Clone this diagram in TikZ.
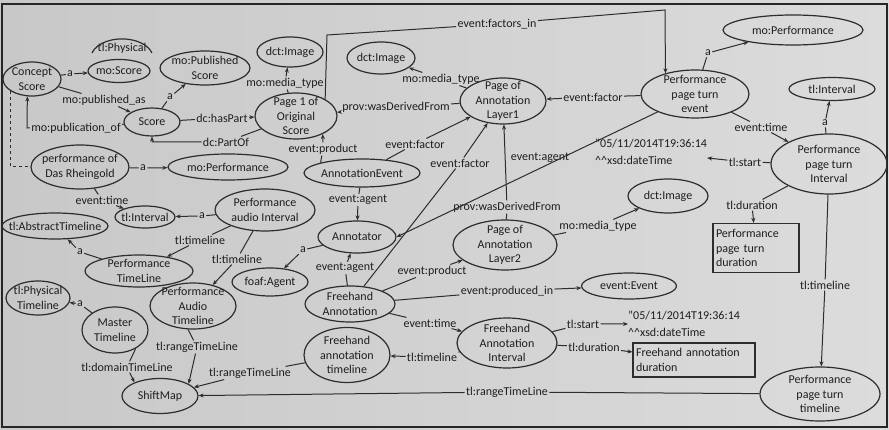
\documentclass[tikz,border=0pt]{standalone}
\usepackage{fontspec}
\setmainfont{Carlito}
\usetikzlibrary{shapes.geometric,arrows.meta}
\definecolor{bgl}{RGB}{200,200,200}
\definecolor{bgr}{RGB}{220,220,220}
\definecolor{lnc}{RGB}{45,45,45}
\definecolor{txc}{RGB}{30,30,30}
\newcommand{\dgfont}{\fontsize{12}{14.5}\selectfont}
\begin{document}
\begin{tikzpicture}[x=1pt,y=-1pt,
  txt/.style={font=\dgfont, text=txc, align=center, inner sep=0pt},
  E/.style n args={3}{ellipse, draw=lnc, line width=1.2pt, minimum width=#1, minimum height=#2, inner sep=0pt, label={[txt]center:{#3}}},
  B/.style={rectangle, draw=lnc, line width=1.1pt, font=\dgfont, text=txc, align=left, inner xsep=3pt, inner ysep=2pt},
  L/.style={font=\dgfont, text=txc, inner sep=1.2pt},
  arr/.style={draw=lnc, line width=1pt, -{Stealth[length=5pt,width=4pt]}},
  ln/.style={draw=lnc, line width=1pt},
]
\shade[left color=bgl, right color=bgr] (0,0) rectangle (889,430);
\useasboundingbox (0,0) rectangle (889,430);
\draw[black!85, line width=2pt] (2,4) rectangle (887,427);

% ---------- nodes ----------
\node[E={58}{34}{Concept\\Score}] (cs) at (32,79) {};
\node[E={62}{23}{mo:Score}] (mos) at (119,71) {};
\node[txt] (tlphy) at (122,48) {tl:Physical};
\draw[draw=lnc, line width=1.2pt] (92,53) arc[start angle=165,end angle=15,x radius=31pt,y radius=19pt];
\node[E={90}{34}{mo:Published\\Score}] (mopub) at (205,68) {};
\node[E={56}{28}{Score}] (score) at (152,122) {};
\node[E={66}{30}{dct:Image}] (img1) at (290,52) {};
\node[E={82}{46}{Page 1 of\\Original\\Score}] (page1) at (296,116) {};
\node[E={68}{32}{dct:Image}] (img2) at (381,58) {};
\node[E={86}{46}{Page of\\Annotation\\Layer1}] (lay1) at (503,101) {};
\node[E={108}{48}{Performance\\page turn\\event}] (ppte) at (695,94) {};
\node[E={140}{30}{mo:Performance}] (moperf1) at (793,30) {};
\node[E={86}{23}{tl:Interval}] (tlint1) at (832,89) {};
\node[E={116}{60}{Performance\\page turn\\Interval}] (ppti) at (829,164) {};
\node[txt, align=left, anchor=west] (lit1) at (595,152) {"05/11/2014T19:36:14\\[3pt]\textasciicircum\textasciicircum xsd:dateTime};
\node[B, text width=80pt, minimum height=49pt] (pptdur) at (756,248) {Performance\\page turn\\duration};
\node[E={80}{34}{dct:Image}] (img3) at (668,196) {};
\node[E={120}{54}{Performance\\page turn\\timeline}] (ppttl) at (820,394) {};
\node[E={98}{44}{performance of\\Das Rheingold}] (dasr) at (80,167) {};
\node[E={120}{26}{mo:Performance}] (moperf2) at (228,167) {};
\node[E={60}{22}{tl:Interval}] (tlint2) at (145,217) {};
\node[E={100}{42}{Performance\\audio Interval}] (pai) at (265,210) {};
\node[E={106}{26}{tl:AbstractTimeline}] (tlabs) at (55,226) {};
\node[E={108}{32}{Performance\\TimeLine}] (ptl) at (139,271) {};
\node[E={76}{28}{foaf:Agent}] (foaf) at (270,282) {};
\node[E={86}{46}{Performance\\Audio\\Timeline}] (pat) at (193,306) {};
\node[E={78}{32}{Annotator}] (annot) at (357,237) {};
\node[E={116}{28}{AnnotationEvent}] (aev) at (362,173) {};
\node[E={104}{50}{Page of\\Annotation\\Layer2}] (lay2) at (505,245) {};
\node[E={90}{36}{Freehand\\Annotation}] (fha) at (350,304) {};
\node[E={95}{26}{event:Event}] (evt) at (629,286) {};
\node[E={100}{50}{Freehand\\Annotation\\Interval}] (fai) at (507,343) {};
\node[txt, align=left, anchor=west] (lit2) at (628,324) {"05/11/2014T19:36:14\\[3pt]\textasciicircum\textasciicircum xsd:dateTime};
\node[B, text width=116pt, minimum height=34pt] (fadur) at (694,360) {Freehand annotation\\duration};
\node[E={86}{55}{Freehand\\annotation\\timeline}] (fat) at (347,355) {};
\node[E={66}{46}{Master\\Timeline}] (master) at (115,330) {};
\node[E={64}{34}{tl:Physical\\Timeline}] (tlphys) at (38,298) {};
\node[E={76}{35}{ShiftMap}] (shift) at (160,396) {};

% ---------- labels ----------
\node[L] (l1) at (70,74) {a};
\node[L] (l2) at (104,100) {mo:published\_as};
\node[L] (l3) at (76,128) {mo:publication\_of};
\node[L] (l4) at (170,97) {a};
\node[L] (l5) at (222,118) {dc:hasPart};
\node[L] (l6) at (226,142) {dc:PartOf};
\node[L] (l7) at (285,83) {mo:media\_type};
\node[L] (l8) at (396,107) {prov:wasDerivedFrom};
\node[L] (l9) at (497,24) {event:factors\_in};
\node[L] (l10) at (708,53) {a};
\node[L] (l11) at (593,97) {event:factor};
\node[L] (l12) at (761,127) {event:time};
\node[L] (l13) at (825,123) {a};
\node[L] (l14) at (745,162) {tl:start};
\node[L] (l15) at (752,205) {tl:duration};
\node[L] (l16) at (825,285) {tl:timeline};
\node[L] (l17) at (540,158) {event:agent};
\node[L] (l18) at (323,149) {event:product};
\node[L] (l19) at (415,144) {event:factor};
\node[L] (l20) at (358,200) {event:agent};
\node[L] (l21) at (303,250) {a};
\node[L] (l22) at (345,268) {event:agent};
\node[L] (l23) at (460,163) {event:factor};
\node[L] (l24) at (507,207) {prov:wasDerivedFrom};
\node[L] (l25) at (432,271) {event:product};
\node[L] (l26) at (507,291) {event:produced\_in};
\node[L] (l27) at (430,323) {event:time};
\node[L] (l28) at (583,324) {tl:start};
\node[L] (l29) at (594,347) {tl:duration};
\node[L] (l30) at (432,357) {tl:timeline};
\node[L] (l31) at (507,392) {tl:rangeTimeLine};
\node[L] (l32) at (250,373) {tl:rangeTimeLine};
\node[L] (l33) at (197,347) {tl:rangeTimeLine};
\node[L] (l34) at (127,367) {tl:domainTimeLine};
\node[L] (l35) at (143,168) {a};
\node[L] (l36) at (102,200) {event:time};
\node[L] (l37) at (202,216) {a};
\node[L] (l38) at (80,252) {a};
\node[L] (l39) at (200,240) {tl:timeline};
\node[L] (l40) at (237,259) {tl:timeline};
\node[L] (l41) at (80,304) {a};
\node[L] (l42) at (441,79) {mo:media\_type};
\node[L] (l43) at (598,226) {mo:media\_type};

\coordinate (fa1) at (327,35);
\coordinate (fa2) at (665,10);
\coordinate (c3) at (27,128);

% ---------- connectors ----------
\draw[arr] (cs) -- (l1) -- (mos);
\draw[arr] (cs) -- (l2) -- (score);
\draw[arr] (score) -- (l3) -- (c3) -- (cs.-105);
\draw[arr] (score) -- (l4) -- (mopub);
\draw[arr] (score) -- (l5) -- (page1);
\draw[arr] (page1) -- (l6) -| (score);
\draw[arr] (page1) -- (l7) -- (img1);
\draw[arr] (lay1) -- (l8) -- (page1);
\draw[arr] (page1.30) -- (fa1) -- (l9) -- (fa2) -- (ppte.145);
\draw[arr] (ppte) -- (l10) -- (moperf1);
\draw[arr] (ppte) -- (l11) -- (lay1);
\draw[arr] (ppte) -- (l12) -- (ppti);
\draw[arr] (ppti) -- (l13) -- (tlint1);
\draw[arr] (ppti) -- (l14) -- (lit1);
\draw[arr] (ppti) -- (l15) -- (pptdur);
\draw[arr] (ppti) -- (l16) -- (ppttl);
\draw[arr] (ppte) -- (annot.east);
\draw[arr] (aev.166) -- (l18) -- (page1.-34);
\draw[arr] (aev) -- (l19) -- (lay1);
\draw[arr] (aev) -- (l20) -- (annot);
\draw[arr] (annot) -- (l21) -- (foaf);
\draw[arr] (fha) -- (l22) -- (annot);
\draw[arr] (fha) -- (l23) -- (lay1);
\draw[arr] (lay2) -- (l24) -- (lay1);
\draw[arr] (fha) -- (l25) -- (lay2);
\draw[arr] (fha) -- (l26) -- (evt);
\draw[arr] (fha) -- (l27) -- (fai);
\draw[arr] (fai) -- (l28) -- (lit2);
\draw[arr] (fai) -- (l29) -- (fadur);
\draw[arr] (fai) -- (l30) -- (fat);
\draw[arr] (ppttl) -- (l31) -- (shift);
\draw[arr] (fat) -- (l32) -- (shift);
\draw[arr] (pat.-102) -- (l33) -- (shift.23);
\draw[arr] (master.-42) -- (l34) -- (shift.152);
\draw[arr] (dasr) -- (l35) -- (moperf2);
\draw[arr] (dasr) -- (l36) -- (tlint2);
\draw[arr] (pai) -- (l37) -- (tlint2);
\draw[arr] (ptl) -- (l38) -- (tlabs);
\draw[arr] (pai) -- (l39) -- (ptl);
\draw[arr] (pai) -- (l40) -- (pat);
\draw[arr] (master) -- (l41) -- (tlphys);
\draw[arr] (lay1) -- (l42) -- (img2);
\draw[arr] (lay2) -- (l43) -- (img3);
\draw[ln, dashed] (cs.-150) |- (dasr.west);
\end{tikzpicture}
\end{document}
